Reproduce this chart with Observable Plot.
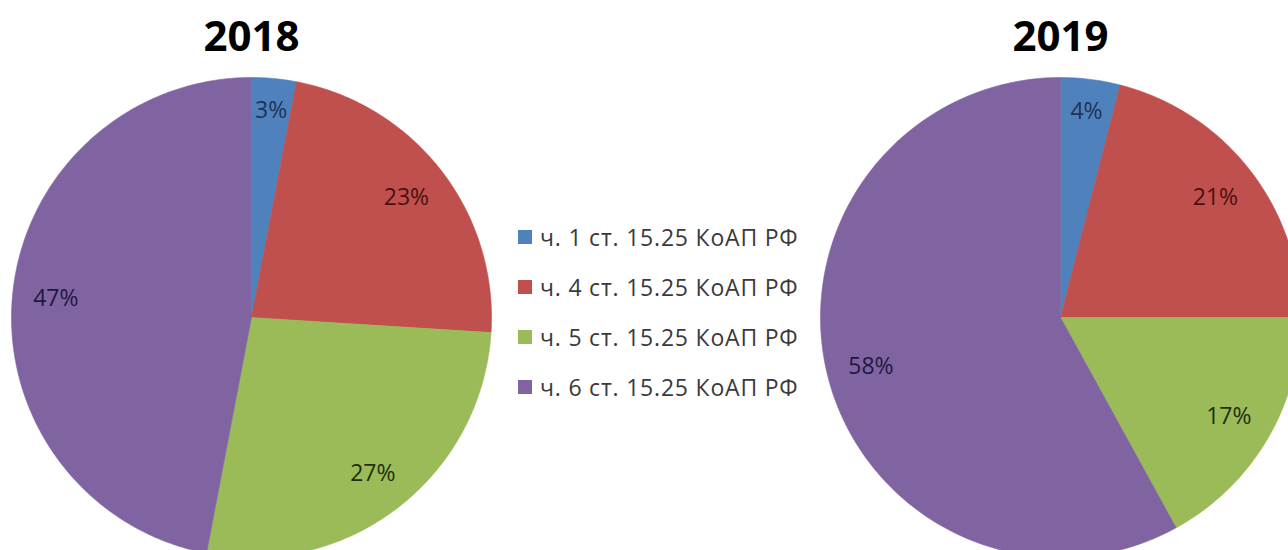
<!DOCTYPE html>
<html><head><meta charset="utf-8">
<script src="https://cdn.jsdelivr.net/npm/d3@7"></script>
<script src="https://cdn.jsdelivr.net/npm/@observablehq/plot@0.6"></script>
<style>
body{margin:0;background:#fff;}
#wrap{position:relative;width:1288px;height:550px;overflow:hidden;background:#fff;}
#legend{position:absolute;left:518px;top:212px;font-family:"Open Sans",sans-serif;font-size:23px;letter-spacing:0.8px;color:#3a3a3a;}
.row{display:flex;align-items:center;height:50px;white-space:nowrap;}
.sw{width:14px;height:14px;margin-right:8px;flex:none;}
</style></head><body>
<div id="wrap"><div id="chart"></div><div id="legend"></div></div>
<script>
const years = ["2018", "2019"];
const categories = ["ч. 1 ст. 15.25 КоАП РФ", "ч. 4 ст. 15.25 КоАП РФ", "ч. 5 ст. 15.25 КоАП РФ", "ч. 6 ст. 15.25 КоАП РФ"];
const values2018 = [3, 23, 27, 47];
const values2019 = [4, 21, 17, 58];
const sliceColors = ["#4f81bd", "#c0504d", "#9bbb59", "#8064a2"];
const labelColors = ["#1f3358", "#4a1010", "#1f2e0c", "#22183f"];

const W = 1288, H = 550, R = 240, CY = 317;
const centers = {"2018": 251, "2019": 1060};
const seriesByYear = {"2018": values2018, "2019": values2019};
const pie = d3.pie().sort(null).value(d => d);
const slices = [], labels = [];
const LFS = 23;
for (const yr of years) {
  const cx = centers[yr];
  pie(seriesByYear[yr]).forEach((a, i) => {
    const key = yr + "-" + i;
    slices.push({key, x: cx, y: CY, color: sliceColors[i]});
    const span = a.endAngle - a.startAngle;
    const n = Math.max(2, Math.ceil(span / (Math.PI / 180)));
    for (let k = 0; k <= n; k++) {
      const t = a.startAngle + span * k / n;
      slices.push({key, x: cx + R * Math.sin(t), y: CY - R * Math.cos(t), color: sliceColors[i]});
    }
    slices.push({key, x: cx, y: CY, color: sliceColors[i]});
    const m = (a.startAngle + a.endAngle) / 2, s = Math.sin(m), c = -Math.cos(m);
    const text = a.data + "%";
    const hw = text.length * 7.5, hh = 10, target = R - 20;
    let lo = 0, hi = R;
    for (let it = 0; it < 40; it++) {
      const r = (lo + hi) / 2;
      const d = Math.hypot(Math.abs(s) * r + hw, Math.abs(c) * r + hh);
      if (d > target) hi = r; else lo = r;
    }
    const r = lo;
    labels.push({x: cx + s * r, y: CY + c * r, text, color: labelColors[i]});
  });
}

const chart = Plot.plot({
  width: W, height: H, margin: 0,
  x: {domain: [0, W], range: [0, W], axis: null},
  y: {domain: [0, H], range: [0, H], axis: null},
  color: {type: "identity"},
  style: {background: "transparent"},
  marks: [
    Plot.line(slices, {x: "x", y: "y", z: "key", fill: "color", stroke: "color", strokeWidth: 0.6, curve: "linear"}),
    Plot.text(labels, {x: "x", y: "y", text: "text", fill: "color", fontSize: LFS, fontFamily: "Open Sans", lineAnchor: "middle"}),
    Plot.text(years, {x: d => centers[d], y: () => 50, text: d => d, fontSize: 42, fontWeight: "bold", fontFamily: "Open Sans", lineAnchor: "bottom", fill: "#000"})
  ]
});
document.getElementById("chart").appendChild(chart);

const legend = document.getElementById("legend");
categories.forEach((cat, i) => {
  const row = document.createElement("div");
  row.className = "row";
  const sw = document.createElement("div");
  sw.className = "sw";
  sw.style.background = sliceColors[i];
  const t = document.createElement("span");
  t.textContent = cat;
  row.appendChild(sw); row.appendChild(t);
  legend.appendChild(row);
});
</script>
</body></html>
